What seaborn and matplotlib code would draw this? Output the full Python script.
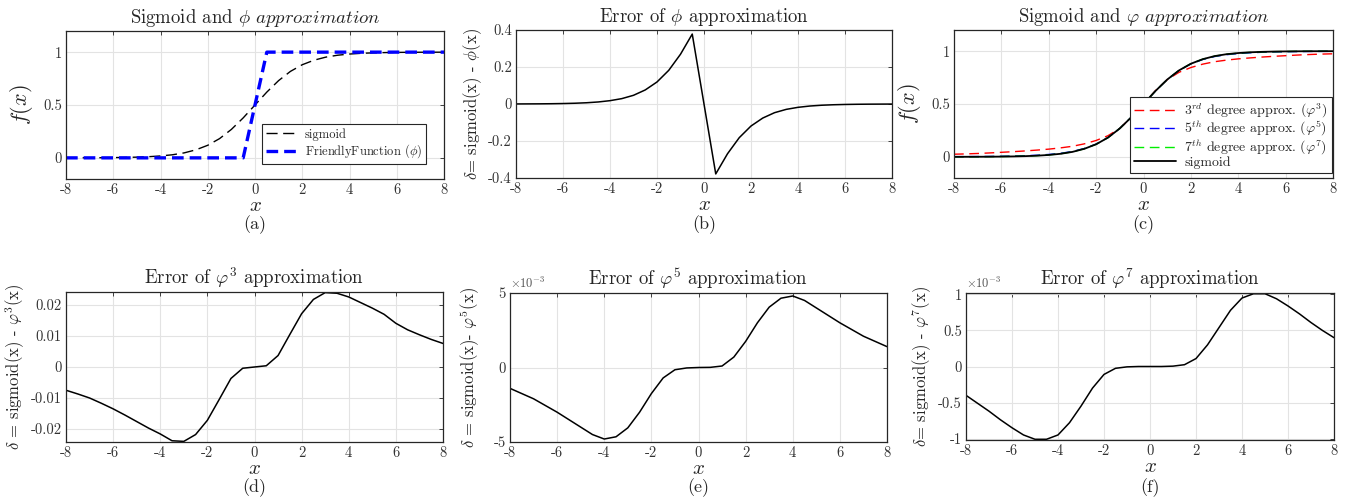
import numpy as np
import pandas as pd
import matplotlib
matplotlib.use("Agg")
import matplotlib.pyplot as plt
import seaborn as sns
import warnings
warnings.filterwarnings("ignore")

x_vals = [-8.0, -7.5, -7.0, -6.5, -6.0, -5.5, -5.0, -4.5, -4.0, -3.5, -3.0,
          -2.5, -2.0, -1.5, -1.0, -0.5, 0.0, 0.5, 1.0, 1.5, 2.0, 2.5, 3.0,
          3.5, 4.0, 4.5, 5.0, 5.5, 6.0, 6.5, 7.0, 7.5, 8.0]

sigmoid_vals = [0.0003, 0.0006, 0.0009, 0.0015, 0.0025, 0.0041, 0.0067, 0.011,
                0.018, 0.029, 0.047, 0.076, 0.119, 0.182, 0.269, 0.378, 0.5,
                0.622, 0.731, 0.818, 0.881, 0.924, 0.953, 0.971, 0.982, 0.989,
                0.9933, 0.9959, 0.9975, 0.9985, 0.9991, 0.9994, 0.9997]

phi_vals = [0, 0, 0, 0, 0, 0, 0, 0, 0, 0, 0, 0, 0, 0, 0, 0, 0.5,
            1, 1, 1, 1, 1, 1, 1, 1, 1, 1, 1, 1, 1, 1, 1, 1]

phi3_curve = [0.025, 0.028, 0.032, 0.037, 0.043, 0.049, 0.056, 0.064, 0.073,
              0.085, 0.100, 0.123, 0.155, 0.200, 0.270, 0.375, 0.5, 0.625,
              0.730, 0.800, 0.845, 0.877, 0.900, 0.915, 0.927, 0.936, 0.944,
              0.951, 0.957, 0.963, 0.968, 0.972, 0.975]

err_phi = [0.0003, 0.0006, 0.0009, 0.0015, 0.0025, 0.0041, 0.0067, 0.011,
           0.018, 0.029, 0.047, 0.076, 0.119, 0.182, 0.269, 0.378, 0.0,
           -0.378, -0.269, -0.182, -0.119, -0.076, -0.047, -0.029, -0.018,
           -0.011, -0.0067, -0.0041, -0.0025, -0.0015, -0.0009, -0.0006, -0.0003]

err_phi3 = [-0.0075, -0.0087, -0.0100, -0.0117, -0.0135, -0.0155, -0.0176,
            -0.0197, -0.0216, -0.0238, -0.0240, -0.0218, -0.0172, -0.0105,
            -0.0037, -0.0004, 0.0, 0.0004, 0.0037, 0.0105, 0.0172, 0.0218,
            0.0240, 0.0238, 0.0226, 0.0208, 0.0190, 0.0170, 0.0141, 0.0120,
            0.0104, 0.0089, 0.0076]

err_phi5 = [-1.40e-3, -1.75e-3, -2.10e-3, -2.55e-3, -3.00e-3, -3.50e-3,
            -4.00e-3, -4.50e-3, -4.80e-3, -4.65e-3, -4.05e-3, -3.00e-3,
            -1.75e-3, -0.70e-3, -0.15e-3, -0.03e-3, 0.0, 0.01e-3, 0.10e-3,
            0.70e-3, 1.75e-3, 3.00e-3, 4.05e-3, 4.65e-3, 4.80e-3, 4.50e-3,
            4.00e-3, 3.50e-3, 3.00e-3, 2.55e-3, 2.10e-3, 1.75e-3, 1.40e-3]

err_phi7 = [-0.40e-3, -0.51e-3, -0.62e-3, -0.74e-3, -0.85e-3, -0.95e-3,
            -1.01e-3, -1.01e-3, -0.95e-3, -0.78e-3, -0.55e-3, -0.30e-3,
            -0.11e-3, -0.025e-3, -0.005e-3, 0.0, 0.0, 0.0, 0.005e-3,
            0.025e-3, 0.11e-3, 0.30e-3, 0.54e-3, 0.78e-3, 0.95e-3, 1.01e-3,
            1.01e-3, 0.94e-3, 0.84e-3, 0.73e-3, 0.61e-3, 0.50e-3, 0.40e-3]

df = pd.DataFrame({"x": x_vals, "sigmoid": sigmoid_vals, "phi": phi_vals,
                   "phi3": phi3_curve, "e_phi": err_phi, "e3": err_phi3,
                   "e5": err_phi5, "e7": err_phi7})
# 5th / 7th approximations: sigmoid minus the plotted error
df["phi5"] = df["sigmoid"] - df["e5"]
df["phi7"] = df["sigmoid"] - df["e7"]

# ---- style ----
sns.set_style("whitegrid")
plt.rcParams.update({
    "font.family": "serif",
    "font.serif": ["cmr10", "DejaVu Serif"],
    "mathtext.fontset": "cm",
    "axes.unicode_minus": False,
    "axes.formatter.use_mathtext": True,
    "axes.edgecolor": "#262626",
    "axes.linewidth": 0.9,
    "grid.color": "#e3e3e3",
    "grid.linewidth": 0.8,
    "xtick.color": "#262626",
    "ytick.color": "#262626",
    "xtick.labelcolor": "#333333",
    "ytick.labelcolor": "#333333",
    "xtick.direction": "in",
    "ytick.direction": "in",
})

TICK_FS = 10.5

fig = plt.figure(figsize=(13.47, 5.0), dpi=100)

W, H = 1347.0, 500.0
def add_ax(l, t, r, b):
    return fig.add_axes([l / W, 1 - b / H, (r - l) / W, (b - t) / H])

ax_a = add_ax(66, 31, 444, 179)
ax_b = add_ax(516, 30, 892, 178)
ax_c = add_ax(954, 30, 1333, 178)
ax_d = add_ax(66, 292, 443, 442)
ax_e = add_ax(510, 293, 887, 442)
ax_f = add_ax(966, 293, 1334, 440)

xt = [-8, -6, -4, -2, 0, 2, 4, 6, 8]

def common(ax, letter, row_y):
    ax.set_xlim(-8, 8)
    ax.set_xticks(xt)
    ax.set_xticklabels([str(v) for v in xt])
    ax.tick_params(top=True, right=True, length=3, width=0.6, pad=3,
                   labelsize=TICK_FS)
    ax.grid(True)
    ax.set_xlabel("$x$", fontsize=15, labelpad=0)
    pos = ax.get_position()
    fig.text(pos.x0 + pos.width / 2, 1 - row_y / H, f"({letter})",
             ha="center", va="center", fontsize=13)

def set_yticks(ax, vals, labels):
    ax.set_yticks(vals)
    ax.set_yticklabels(labels)

def exp_tag(ax):
    ax.text(0.0, 1.015, r"$\times10^{-3}$", transform=ax.transAxes,
            ha="left", va="bottom", fontsize=9, color="#555555")

# (a)
sns.lineplot(data=df, x="x", y="sigmoid", ax=ax_a, color="black",
             linestyle=(0, (8, 4)), linewidth=1.0, label="sigmoid")
sns.lineplot(data=df, x="x", y="phi", ax=ax_a, color="#0000ff",
             linestyle=(0, (3.5, 1.8)), linewidth=2.4,
             label=r"FriendlyFunction ($\phi$)")
ax_a.set_ylim(-0.2, 1.2)
set_yticks(ax_a, [0, 0.5, 1], ["0", "0.5", "1"])
ax_a.set_ylabel("$f(x)$", fontsize=16, labelpad=6)
ax_a.set_title(r"Sigmoid and $\phi$ $\mathit{approximation}$", fontsize=13.5, pad=6)
leg = ax_a.legend(loc="lower right", bbox_to_anchor=(0.952, 0.10), fontsize=9,
                  frameon=True, fancybox=False, edgecolor="#262626",
                  borderpad=0.3, labelspacing=0.15, handlelength=2.5,
                  handletextpad=0.6, borderaxespad=0, framealpha=1.0)
leg.get_frame().set_linewidth(0.8)
common(ax_a, "a", 225)

# (b)
sns.lineplot(data=df, x="x", y="e_phi", ax=ax_b, color="black", linewidth=1.1)
ax_b.set_ylim(-0.4, 0.4)
set_yticks(ax_b, [-0.4, -0.2, 0, 0.2, 0.4], ["-0.4", "-0.2", "0", "0.2", "0.4"])
ax_b.set_ylabel(r"$\delta$= sigmoid(x) - $\phi$(x)", fontsize=12, labelpad=3)
ax_b.set_title(r"Error of $\phi$ approximation", fontsize=13.5, pad=6)
common(ax_b, "b", 225)

# (c)
sns.lineplot(data=df, x="x", y="phi3", ax=ax_c, color="#ff0000",
             linestyle=(0, (7, 4)), linewidth=1.0,
             label=r"$3^{rd}$ degree approx. ($\varphi^3$)")
sns.lineplot(data=df, x="x", y="phi5", ax=ax_c, color="#0000ff",
             linestyle=(0, (7, 4)), linewidth=1.0,
             label=r"$5^{th}$ degree approx. ($\varphi^5$)")
sns.lineplot(data=df, x="x", y="phi7", ax=ax_c, color="#00ee00",
             linestyle=(0, (7, 4)), linewidth=1.0,
             label=r"$7^{th}$ degree approx. ($\varphi^7$)")
sns.lineplot(data=df, x="x", y="sigmoid", ax=ax_c, color="black",
             linewidth=1.3, label="sigmoid")
ax_c.set_ylim(-0.2, 1.2)
set_yticks(ax_c, [0, 0.5, 1], ["0", "0.5", "1"])
ax_c.set_ylabel("$f(x)$", fontsize=16, labelpad=6)
ax_c.set_title(r"Sigmoid and $\varphi$ $\mathit{approximation}$", fontsize=13.5, pad=6)
leg = ax_c.legend(loc="lower right", bbox_to_anchor=(0.997, 0.034), fontsize=10,
                  frameon=True, fancybox=False, edgecolor="#262626",
                  borderpad=0.3, labelspacing=-0.05, handlelength=3.0,
                  handletextpad=0.6, borderaxespad=0, framealpha=1.0)
leg.get_frame().set_linewidth(0.8)
common(ax_c, "c", 225)

# (d)
sns.lineplot(data=df, x="x", y="e3", ax=ax_d, color="black", linewidth=1.1)
ax_d.set_ylim(-0.0242, 0.0242)
set_yticks(ax_d, [-0.02, -0.01, 0, 0.01, 0.02], ["-0.02", "-0.01", "0", "0.01", "0.02"])
ax_d.set_ylabel(r"$\delta$ = sigmoid(x) - $\varphi^3$(x)", fontsize=12, labelpad=3)
ax_d.set_title(r"Error of $\varphi^3$ approximation", fontsize=13.5, pad=6)
common(ax_d, "d", 488)

# (e)
sns.lineplot(data=df, x="x", y="e5", ax=ax_e, color="black", linewidth=1.1)
ax_e.set_ylim(-5e-3, 5e-3)
set_yticks(ax_e, [-5e-3, 0, 5e-3], ["-5", "0", "5"])
ax_e.set_ylabel(r"$\delta$ = sigmoid(x)- $\varphi^5$(x)", fontsize=12, labelpad=8)
ax_e.set_title(r"Error of $\varphi^5$ approximation", fontsize=13.5, pad=6)
exp_tag(ax_e)
common(ax_e, "e", 488)

# (f)
sns.lineplot(data=df, x="x", y="e7", ax=ax_f, color="black", linewidth=1.1)
ax_f.set_ylim(-1.02e-3, 1.02e-3)
set_yticks(ax_f, [-1e-3, -0.5e-3, 0, 0.5e-3, 1e-3], ["-1", "-0.5", "0", "0.5", "1"])
ax_f.set_ylabel(r"$\delta$= sigmoid(x) - $\varphi^7$(x)", fontsize=12, labelpad=3)
ax_f.set_title(r"Error of $\varphi^7$ approximation", fontsize=13.5, pad=6)
exp_tag(ax_f)
common(ax_f, "f", 488)

plt.savefig("out.png", dpi=100)
